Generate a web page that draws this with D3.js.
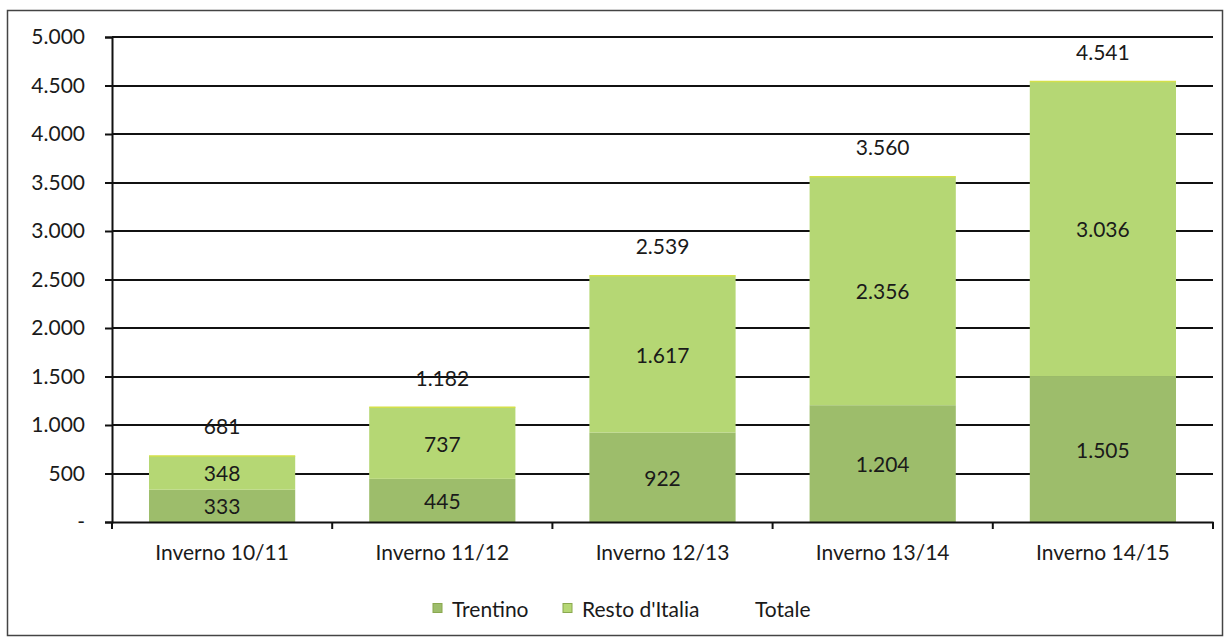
<!DOCTYPE html>
<html><head><meta charset="utf-8">
<script src="https://cdn.jsdelivr.net/npm/d3@7"></script>
<style>body{margin:0;background:#fff;} svg text{font-family:Lato,"Open Sans",sans-serif;fill:#1a1a1a;}</style>
</head><body>
<svg id="c" width="1228" height="641"></svg>
<script>
const categories = ["Inverno 10/11","Inverno 11/12","Inverno 12/13","Inverno 13/14","Inverno 14/15"];
const trentino = [333, 445, 922, 1204, 1505];
const restoItalia = [348, 737, 1617, 2356, 3036];
const totale = [681, 1182, 2539, 3560, 4541];
const yTicks = [0,500,1000,1500,2000,2500,3000,3500,4000,4500,5000];
const seriesNames = ["Trentino","Resto d'Italia","Totale"];
const colors = {"Trentino":"#9dbd6b","Resto d'Italia":"#b5d774"};

const FS = "21px";
const fmt = v => v === 0 ? "-" : d3.format(",")(v).replace(/,/g, ".");
const svg = d3.select("#c");
const m = {l:112, r:1213, t:37, b:522};
svg.append("rect").attr("x",7.5).attr("y",10.5).attr("width",1215).attr("height",625)
  .attr("fill","none").attr("stroke","#444").attr("stroke-width",1.5);

const x = d3.scaleBand().domain(categories).range([m.l,m.r]).paddingInner(0.336).paddingOuter(0.168);
const y = d3.scaleLinear().domain([0,5000]).range([m.b,m.t]);

// gridlines
svg.append("g").selectAll("line").data(yTicks.filter(d=>d>0)).join("line")
  .attr("x1",m.l).attr("x2",m.r).attr("y1",d=>Math.round(y(d))).attr("y2",d=>Math.round(y(d)))
  .attr("stroke","#111").attr("stroke-width",2);

// y axis
const ya = svg.append("g").attr("transform",`translate(${m.l},0)`)
  .call(d3.axisLeft(y).tickValues(yTicks).tickFormat(fmt).tickSize(7).tickPadding(20));
ya.select(".domain").attr("stroke","#111").attr("stroke-width",2);
ya.selectAll(".tick line").attr("stroke","#111").attr("stroke-width",2);
ya.selectAll("text").style("font-size",FS).attr("fill","#1a1a1a");

// stacked bars
const data = categories.map((c,i)=>({c, t:trentino[i], r:restoItalia[i], tot:totale[i]}));
const g = svg.append("g");
g.selectAll(".bt").data(data).join("rect")
  .attr("x",d=>x(d.c)).attr("width",x.bandwidth())
  .attr("y",d=>y(d.t)).attr("height",d=>y(0)-y(d.t)).attr("fill",colors["Trentino"]);
g.selectAll(".br").data(data).join("rect")
  .attr("x",d=>x(d.c)).attr("width",x.bandwidth())
  .attr("y",d=>y(d.t+d.r)).attr("height",d=>y(d.t)-y(d.t+d.r)).attr("fill",colors["Resto d'Italia"]);
g.selectAll(".edge").data(data).join("line")
  .attr("x1",d=>x(d.c)).attr("x2",d=>x(d.c)+x.bandwidth())
  .attr("y1",d=>y(d.t+d.r)).attr("y2",d=>y(d.t+d.r)).attr("stroke","#d4e04a").attr("stroke-width",1.5);

// x axis
const xa = svg.append("g").attr("transform",`translate(0,${m.b})`)
  .call(d3.axisBottom(x).tickSize(0).tickPadding(23));
xa.select(".domain").attr("stroke","#111").attr("stroke-width",2);
xa.selectAll("text").style("font-size",FS).attr("fill","#1a1a1a");
const bnd = d3.range(categories.length+1).map(i=>m.l + i*x.step());
svg.append("g").selectAll("line").data(bnd).join("line")
  .attr("x1",d=>d).attr("x2",d=>d).attr("y1",m.b).attr("y2",m.b+7)
  .attr("stroke","#111").attr("stroke-width",2);

// labels
const lbl = (sel, fy, fv) => sel.data(data).join("text")
  .attr("x",d=>x(d.c)+x.bandwidth()/2).attr("y",fy).attr("text-anchor","middle")
  .attr("dominant-baseline","central").style("font-size",FS).text(fv);
lbl(svg.append("g").selectAll("text"), d=>y(d.t/2), d=>fmt(d.t));
lbl(svg.append("g").selectAll("text"), d=>y(d.t+d.r/2), d=>fmt(d.r));
lbl(svg.append("g").selectAll("text"), d=>y(d.tot)-30, d=>fmt(d.tot));

// legend
const leg = svg.append("g").attr("transform","translate(433,608)");
const items = [{n:seriesNames[0],x:0,sw:true},{n:seriesNames[1],x:130,sw:true},{n:seriesNames[2],x:322,sw:false}];
items.forEach(it=>{
  if(it.sw) leg.append("rect").attr("x",it.x).attr("y",-4.5).attr("width",9).attr("height",9)
    .attr("fill",colors[it.n]).attr("stroke","#8aa84f").attr("stroke-width",1);
  leg.append("text").attr("x",it.sw?it.x+19:it.x).attr("y",0).attr("dominant-baseline","central")
    .style("font-size",FS).text(it.n);
});
</script>
</body></html>
